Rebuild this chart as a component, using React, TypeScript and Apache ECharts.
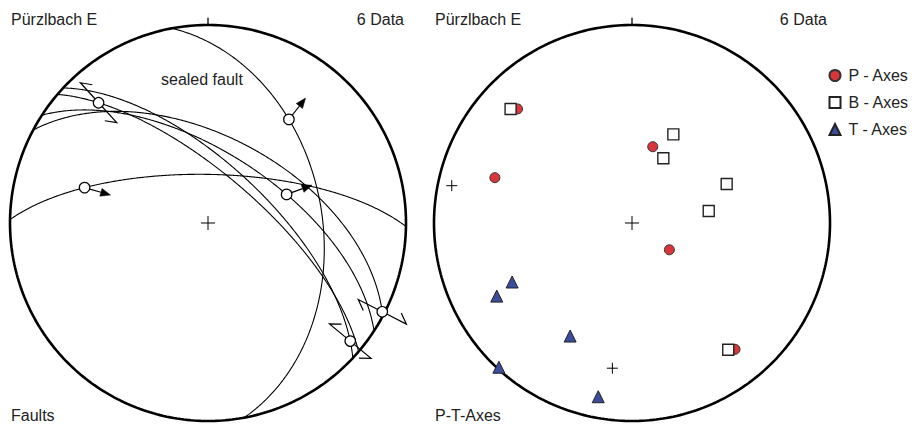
import React, { useEffect, useRef } from "react";
import * as echarts from "echarts";

// ---- Fault data (left net, lower hemisphere Schmidt net) ----
// plane orientation: dip direction / dip (degrees)
const planeDipDir = [79.5, 1, 33, 40.5, 43, 28];
const planeDip = [42, 70, 61, 70, 66, 54];
// slickenside lineation trend on each plane (plunge follows from the plane)
const lineTrend = [38, 286, 70, 317.7, 129.7, 117];
// 1 = arrow pointing away from centre, -1 = arrow towards centre, 2 / -2 = strike-slip half arrows
const lineSense = [1, -1, 1, 2, 2, -2];

// ---- P-T-Axes data (right net) ----
const pTrend = [314.9, 15.2, 288.3, 125.6, 140.8];
const pPlunge = [19.5, 57.2, 27.9, 71.1, 18.8];
const bTrend = [313.2, 25, 25.8, 67.6, 81.1, 142.8];
const bPlunge = [17, 49.1, 60.2, 47.1, 57.8, 20.7];
const tTrend = [243.8, 241.6, 208.7, 222.7, 191];
const tPlunge = [33, 23.4, 35.2, 1, 11.6];
const crossTrend = [281.7, 187.7];
const crossPlunge = [7.8, 26.9];

const legendNames = ["P - Axes", "B - Axes", "T - Axes"];
const FONT = '"Liberation Sans", Arial, Helvetica, sans-serif';

const rad = Math.PI / 180;
function proj(trend: number, plunge: number): number[] {
  const r = Math.sqrt(Math.max(0, 1 - Math.sin(plunge * rad)));
  return [r * Math.sin(trend * rad), r * Math.cos(trend * rad)];
}
function greatCircle(dd: number, dip: number): number[][] {
  const pts: number[][] = [];
  const sAz = (dd + 90) * rad;
  const dAz = dd * rad;
  for (let i = 0; i <= 360; i++) {
    const th = i * 0.5 * rad;
    const c = Math.cos(th), s = Math.sin(th);
    const e = c * Math.sin(sAz) + s * Math.cos(dip * rad) * Math.sin(dAz);
    const n = c * Math.cos(sAz) + s * Math.cos(dip * rad) * Math.cos(dAz);
    const down = s * Math.sin(dip * rad);
    const h = Math.hypot(e, n);
    pts.push(proj(Math.atan2(e, n) / rad, Math.atan2(down, h) / rad));
  }
  return pts;
}
function primitive(): number[][] {
  const pts: number[][] = [];
  for (let i = 0; i <= 360; i++) pts.push([Math.cos(i * rad), Math.sin(i * rad)]);
  return pts;
}

function crossRender(size: number) {
  return (params: any, api: any) => {
    const p = api.coord([api.value(0), api.value(1)]);
    const h = size / 2;
    return {
      type: "group",
      children: [
        { type: "line", shape: { x1: p[0] - h, y1: p[1], x2: p[0] + h, y2: p[1] }, style: { stroke: "#000", lineWidth: 1 } },
        { type: "line", shape: { x1: p[0], y1: p[1] - h, x2: p[0], y2: p[1] + h }, style: { stroke: "#000", lineWidth: 1 } },
      ],
    };
  };
}

function senseRender(params: any, api: any) {
  const p = api.coord([api.value(0), api.value(1)]);
  const t = api.value(2) * rad;
  const sense = api.value(3);
  let dx = Math.sin(t), dy = -Math.cos(t);
  const children: any[] = [];
  const st = { stroke: "#000", lineWidth: 1.2, fill: null };
  if (Math.abs(sense) === 1) {
    if (sense < 0) { dx = -dx; dy = -dy; }
    const L = 27, H = 10, W = 4;
    const bx = p[0] + dx * (L - H), by = p[1] + dy * (L - H);
    children.push({ type: "line", shape: { x1: p[0], y1: p[1], x2: bx, y2: by }, style: st });
    children.push({
      type: "polygon",
      shape: { points: [[p[0] + dx * L, p[1] + dy * L], [bx - dy * W, by + dx * W], [bx + dy * W, by - dx * W]] },
      style: { fill: "#000", stroke: "#000", lineWidth: 0.5 },
    });
  } else {
    const side = sense > 0 ? 1 : -1;
    for (const s of [1, -1]) {
      const ux = dx * s, uy = dy * s;
      const tx = p[0] + ux * 27, ty = p[1] + uy * 27;
      const px = -uy, py = ux;
      children.push({
        type: "polyline",
        shape: { points: [[p[0], p[1]], [tx, ty], [tx - ux * 9.5 + px * 7.5 * side, ty - uy * 9.5 + py * 7.5 * side]] },
        style: st,
      });
    }
  }
  return { type: "group", children };
}

export default function App() {
  const ref = useRef<HTMLDivElement>(null);
  useEffect(() => {
    if (!ref.current) return;
    const chart = echarts.init(ref.current, null, { renderer: "svg" });
    const circ = primitive();
    const series: any[] = [];
    [0, 1].forEach((g) => {
      series.push({
        type: "line", xAxisIndex: g, yAxisIndex: g, data: circ, showSymbol: false, clip: false, silent: true,
        lineStyle: { color: "#000", width: 2.6 }, z: 2,
      });
      series.push({
        type: "line", xAxisIndex: g, yAxisIndex: g, data: [[0, 1], [0, 1.037]], showSymbol: false, clip: false, silent: true,
        lineStyle: { color: "#000", width: 1.3 }, z: 2,
      });
      series.push({
        type: "custom", xAxisIndex: g, yAxisIndex: g, data: [[0, 0]], renderItem: crossRender(14), clip: false, silent: true, z: 2,
      });
    });
    planeDipDir.forEach((dd, i) => {
      series.push({
        type: "line", xAxisIndex: 0, yAxisIndex: 0, data: greatCircle(dd, planeDip[i]), showSymbol: false, clip: false, silent: true,
        lineStyle: { color: "#000", width: 1.1 }, z: 3,
      });
    });
    const linePts = lineTrend.map((t, i) => {
      const pl = Math.atan(Math.tan(planeDip[i] * rad) * Math.cos((t - planeDipDir[i]) * rad)) / rad;
      const xy = proj(t, pl);
      return [xy[0], xy[1], t, lineSense[i]];
    });
    series.push({ type: "custom", xAxisIndex: 0, yAxisIndex: 0, data: linePts, renderItem: senseRender, clip: false, silent: true, z: 4 });
    series.push({
      type: "scatter", xAxisIndex: 0, yAxisIndex: 0, data: linePts.map((d) => [d[0], d[1]]), symbol: "circle", symbolSize: 10.5,
      itemStyle: { color: "#fff", borderColor: "#000", borderWidth: 1.2, opacity: 1 }, silent: true, z: 5, clip: false,
    });
    // right net
    series.push({
      type: "custom", xAxisIndex: 1, yAxisIndex: 1, data: crossTrend.map((t, i) => proj(t, crossPlunge[i])),
      renderItem: crossRender(11), clip: false, silent: true, z: 3,
    });
    series.push({
      name: legendNames[0], type: "scatter", xAxisIndex: 1, yAxisIndex: 1, data: pTrend.map((t, i) => proj(t, pPlunge[i])),
      symbol: "circle", symbolSize: 10, itemStyle: { color: "#d8363b", borderColor: "#333", borderWidth: 1, opacity: 1 }, z: 4, clip: false,
    });
    series.push({
      name: legendNames[1], type: "scatter", xAxisIndex: 1, yAxisIndex: 1, data: bTrend.map((t, i) => proj(t, bPlunge[i])),
      symbol: "rect", symbolSize: 11, itemStyle: { color: "#fff", borderColor: "#222", borderWidth: 1.4, opacity: 1 }, z: 5, clip: false,
    });
    series.push({
      name: legendNames[2], type: "scatter", xAxisIndex: 1, yAxisIndex: 1, data: tTrend.map((t, i) => proj(t, tPlunge[i])),
      symbol: "triangle", symbolSize: 12, itemStyle: { color: "#3c4c9c", borderColor: "#222", borderWidth: 1, opacity: 1 }, z: 6, clip: false,
    });

    const txt = (text: string, x: number, y: number, align = "left") => ({
      type: "text", silent: true, z: 10,
      style: { text, x, y, fill: "#222", font: `16px ${FONT}`, textAlign: align, textVerticalAlign: "middle" },
    });

    const axisCommon = { type: "value", min: -1, max: 1, show: false };
    chart.setOption({
      animation: false,
      backgroundColor: "#fff",
      grid: [
        { left: 10, top: 25, width: 396, height: 396 },
        { left: 434, top: 25, width: 396, height: 396 },
      ],
      xAxis: [{ ...axisCommon, gridIndex: 0 }, { ...axisCommon, gridIndex: 1 }],
      yAxis: [{ ...axisCommon, gridIndex: 0 }, { ...axisCommon, gridIndex: 1 }],
      legend: {
        orient: "vertical", left: 828.5, top: 67.5, padding: 0, itemGap: 11, itemWidth: 11, itemHeight: 11,
        data: legendNames, selectedMode: false,
        textStyle: { fontSize: 16, color: "#222", fontFamily: FONT, padding: [0, 0, 0, 3] },
      },
      graphic: [
        txt("Pürzlbach E", 11, 19.5),
        txt("6 Data", 404, 19.5, "right"),
        txt("sealed fault", 161, 79.5),
        txt("Faults", 11, 415.5),
        txt("Pürzlbach E", 435, 19.5),
        txt("6 Data", 827, 19.5, "right"),
        txt("P-T-Axes", 435, 415.5),
      ],
      series,
    });
    return () => chart.dispose();
  }, []);
  return <div ref={ref} style={{ position: "fixed", left: 0, top: 0, width: 915, height: 424 }} />;
}
